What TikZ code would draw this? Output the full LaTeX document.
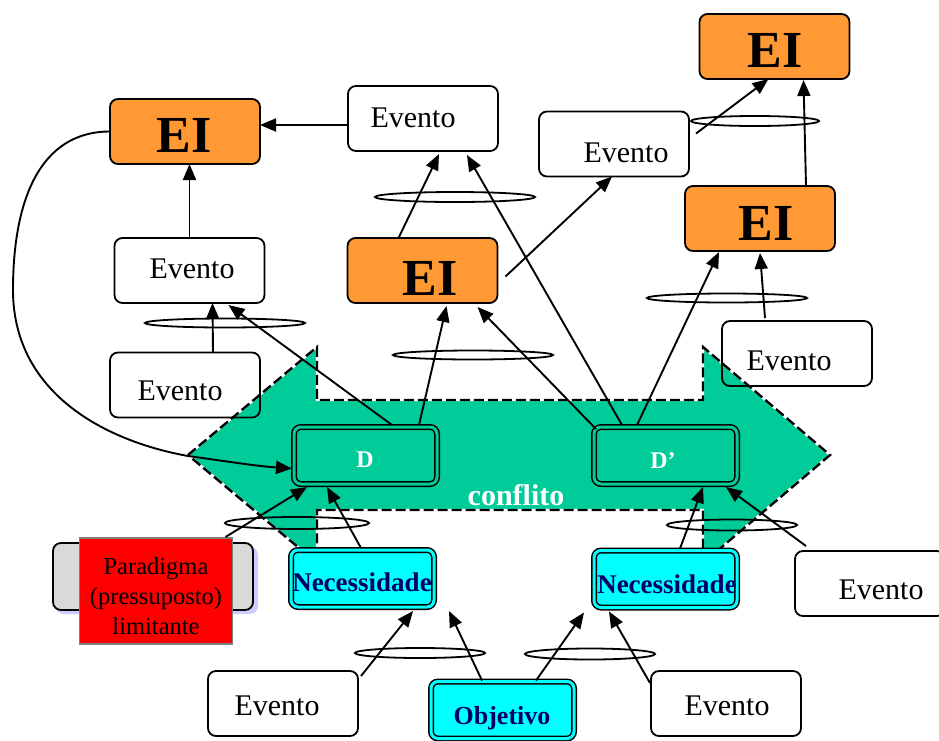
\documentclass[tikz,border=0pt]{standalone}
\usepackage{fontspec}
\setmainfont{Liberation Serif}
\usetikzlibrary{arrows.meta,calc}
\definecolor{agreen}{HTML}{00CC99}
\definecolor{eiorange}{HTML}{FF9933}
\definecolor{ncyan}{HTML}{00FFFF}
\definecolor{navy}{HTML}{000066}
\definecolor{pgray}{HTML}{D9D9D9}
\definecolor{pshadow}{HTML}{CCCCFF}
\definecolor{rborder}{HTML}{808080}
\begin{document}
\begin{tikzpicture}[x=1pt,y=-1pt,
  evbox/.style={draw, rounded corners=8pt, line width=1.8pt, minimum width=150pt, minimum height=65pt, inner sep=0pt, outer sep=0pt},
  eibox/.style={evbox, fill=eiorange},
  dbox/.style={draw, fill=agreen, double=agreen, double distance=3pt, line width=1.5pt, rounded corners=7pt, minimum width=143pt, minimum height=57pt, inner sep=0pt, outer sep=0pt},
  necbox/.style={dbox, fill=ncyan, double=ncyan},
  evt/.style={font=\fontsize{30}{36}\selectfont, inner sep=0pt},
  eit/.style={font=\fontsize{52}{60}\selectfont\bfseries, inner sep=0pt},
  dt/.style={font=\fontsize{24}{28}\selectfont\bfseries, text=white, inner sep=0pt},
  nect/.style={font=\fontsize{27}{30}\selectfont\bfseries, text=navy, inner sep=0pt},
  ring/.style={line width=1.8pt},
  conn/.style={line width=1.9pt, -{Triangle[length=16pt,width=13pt]}},
  bigarrow/.style={fill=agreen}
]
\useasboundingbox (0,0) rectangle (939,740);

% big double arrow "conflito"
\path[bigarrow] (188,455) -- (317,347) -- (317,400) -- (703,400) -- (703,347) -- (830,455) -- (703,563) -- (703,510) -- (317,510) -- (317,563) -- cycle;
\draw[white, line width=2.4pt] (188,455) -- (317,347) -- (317,400) -- (703,400) -- (703,347) -- (830,455) -- (703,563) -- (703,510) -- (317,510) -- (317,563) -- cycle;
\draw[black, line width=2.4pt, dash pattern=on 10pt off 4pt] (188,455) -- (317,347) -- (317,400) -- (703,400) -- (703,347) -- (830,455) -- (703,563) -- (703,510) -- (317,510) -- (317,563) -- cycle;
\node[font=\fontsize{30}{36}\selectfont\bfseries, text=white, inner sep=0pt] (confl) at (516,495) {conflito};

% ellipses
\draw[ring] (225,323) ellipse (80 and 4.5);
\draw[ring] (455,197) ellipse (80 and 5);
\draw[ring] (473,355) ellipse (80 and 4.5);
\draw[ring] (755,121) ellipse (64 and 5);
\draw[ring] (727,298) ellipse (80 and 4.5);
\draw[ring] (297,523) ellipse (72 and 6);
\draw[ring] (732,525) ellipse (65 and 5.5);
\draw[ring] (420,653) ellipse (65 and 5);
\draw[ring] (590,654) ellipse (65 and 5.5);

% Paradigma
\fill[pshadow, rounded corners=8pt] (56,547) rectangle (258,614);
\draw[fill=pgray, rounded corners=8pt, line width=1.8pt] (53,543) rectangle (253,610);
\node[fill=red, draw=rborder, line width=1.5pt, minimum width=153pt, minimum height=106pt, inner sep=0pt, outer sep=0pt] (par) at (156,591) {};
\node[font=\fontsize{24.5}{30}\selectfont, align=center, inner sep=0pt] (part) at (156,596) {Paradigma\\(pressuposto)\\limitante};

% Evento boxes
\node[evbox] (Eva) at (423,118.5) {};
\node[evt] (Evat) at (413,118) {Evento};
\node[evbox] (Evb) at (614,144) {};
\node[evt] (Evbt) at (626,153) {Evento};
\node[evbox] (Evc) at (189.5,270.5) {};
\node[evt] (Evct) at (192,269) {Evento};
\node[evbox] (Evd) at (185,385) {};
\node[evt] (Evdt) at (180,391) {Evento};
\node[evbox] (Eve) at (797,353.5) {};
\node[evt] (Evet) at (789,361) {Evento};
\node[evbox] (Evf) at (870,583.5) {};
\node[evt] (Evft) at (881,590) {Evento};
\node[evbox] (Evg) at (283,703.5) {};
\node[evt] (Evgt) at (277,706) {Evento};
\node[evbox] (Evh) at (726,703.5) {};
\node[evt] (Evht) at (727,706) {Evento};

% EI boxes
\node[eibox] (EIa) at (185,131.5) {};
\node[eit] (EIat) at (184,135) {EI};
\node[eibox] (EIb) at (774.5,46.5) {};
\node[eit] (EIbt) at (775,50) {EI};
\node[eibox] (EIc) at (760,218.5) {};
\node[eit] (EIct) at (766,223) {EI};
\node[eibox] (EId) at (422.5,270.5) {};
\node[eit] (EIdt) at (430,278) {EI};

% D boxes
\node[dbox] (D) at (365.5,455.5) {};
\node[dt] (Dt) at (365,460) {D};
\node[dbox] (Dp) at (665.5,455.5) {};
\node[dt] (Dpt) at (663,461) {D’};

% Necessidade and Objetivo
\node[necbox] (NecL) at (362.5,578.5) {};
\node[nect] (NecLt) at (362,582) {Necessidade};
\node[necbox] (NecR) at (665.5,579) {};
\node[nect] (NecRt) at (667,584) {Necessidade};
\node[necbox] (Obj) at (502.5,710) {};
\node[nect, font=\fontsize{26}{28}\selectfont\bfseries] (Objt) at (502,718) {Objetivo};

% connectors
\draw[conn] ($(Eva.west)+(0,6.5)$) -- ($(EIa.east)+(0,-6.5)$);
\draw[conn] (Evc.north) -- (Evc.north |- EIa.south);
\draw[conn] ($(Evd.north west)+(103,0)$) -- ($(Evc.south west)+(98,0)$);
\draw[conn] ($(D.north west)+(98,-2)$) -- ($(Evc.south west)+(114,2)$);
\draw[conn] ($(D.north west)+(125,-2)$) -- ($(EId.south west)+(99,3)$);
\draw[conn] ($(EId.north west)+(51,0)$) -- ($(Eva.south west)+(91,3)$);
\draw[conn] ($(Dp.north west)+(28,-2)$) -- ($(Eva.south west)+(119,4)$);
\draw[conn] ($(Dp.north west)+(2,2)$) -- ($(EId.south west)+(130,4)$);
\draw[conn] ($(Dp.north west)+(43,-2)$) -- ($(EIc.south west)+(34,1)$);
\draw[conn] ($(EId.east)+(8,6)$) -- ($(Evb.south west)+(73,0)$);
\draw[conn] ($(Evb.north east)+(7,22)$) -- ($(EIb.south west)+(69,0)$);
\draw[conn] ($(EIc.north west)+(121,0)$) -- ($(EIb.south west)+(104,1)$);
\draw[conn] ($(Eve.north west)+(43,-3)$) -- ($(EIc.south west)+(75,2)$);
\draw[conn] (EIa.west) .. controls (40,131.5) and (13,200) .. (13,290)
  .. controls (13,390) and (100,440) .. (188,456)
  .. controls (225,461) and (255,466) .. ($(D.west)+(-2,13)$);
\draw[conn] ($(par.north east)+(-7,-1)$) -- ($(D.south west)+(13,3)$);
\draw[conn] ($(NecL.north west)+(70,-2)$) -- ($(D.south west)+(33,3)$);
\draw[conn] ($(NecR.north west)+(86,-2)$) -- ($(Dp.south west)+(109,3)$);
\draw[conn] ($(Evf.north west)+(11,-5)$) -- ($(Dp.south west)+(132,3)$);
\draw[conn] ($(Evg.north east)+(3,5)$) -- ($(NecL.south west)+(122,4)$);
\draw[conn] ($(Obj.north west)+(51,-1)$) -- ($(NecL.south west)+(158,4)$);
\draw[conn] ($(Obj.north west)+(105,-1)$) -- ($(NecR.south west)+(-10,5)$);
\draw[conn] ($(Evh.north west)+(-1,12)$) -- ($(NecR.south west)+(15,4)$);
\end{tikzpicture}
\end{document}
